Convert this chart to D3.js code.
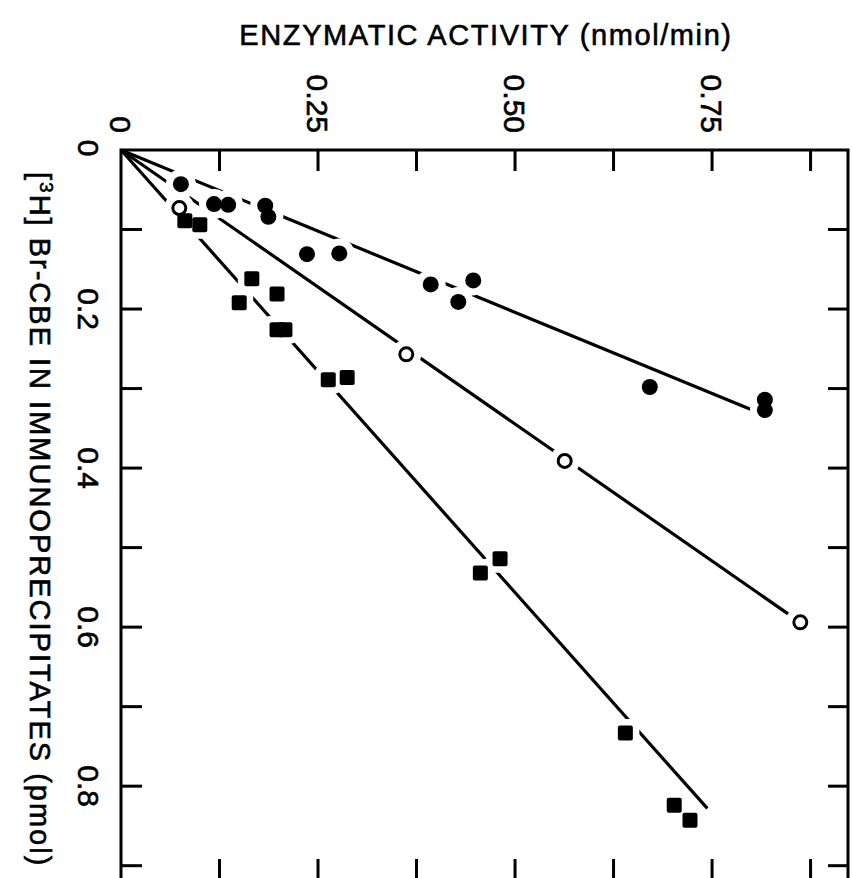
<!DOCTYPE html>
<html>
<head>
<meta charset="utf-8">
<script src="https://cdn.jsdelivr.net/npm/d3@7"></script>
<style>
  html, body { margin: 0; padding: 0; background: #fff; }
  svg { display: block; }
  text { stroke: #000; stroke-width: 0.6px; }
</style>
</head>
<body>
<div id="chart"></div>
<script>
(function () {
  'use strict';

  // filled circles
  const CIRCLE_ACT  = [0.076, 0.118, 0.136, 0.183, 0.187, 0.236, 0.277, 0.393, 0.447, 0.428, 0.671, 0.817, 0.817];
  const CIRCLE_PMOL = [0.043, 0.068, 0.069, 0.070, 0.084, 0.131, 0.130, 0.169, 0.164, 0.191, 0.298, 0.314, 0.327];
  // open circles
  const OPEN_ACT  = [0.074, 0.362, 0.563, 0.862];
  const OPEN_PMOL = [0.073, 0.257, 0.391, 0.594];
  // filled squares
  const SQUARE_ACT  = [0.081, 0.100, 0.166, 0.150, 0.198, 0.198, 0.208, 0.263, 0.287, 0.456, 0.481, 0.640, 0.702, 0.722];
  const SQUARE_PMOL = [0.089, 0.094, 0.162, 0.192, 0.181, 0.226, 0.226, 0.289, 0.286, 0.532, 0.514, 0.733, 0.824, 0.843];

  // fitted lines through the origin: [activity, pmol] at the far end
  const FIT_ENDS = [[0.801, 0.327], [0.862, 0.594], [0.744, 0.828]];

  const ACT_TICKS  = [0.125, 0.25, 0.375, 0.5, 0.625, 0.75, 0.875];
  const ACT_LABELS = [[0, '0'], [0.25, '0.25'], [0.5, '0.50'], [0.75, '0.75']];
  const PMOL_TICKS  = [0.1, 0.2, 0.3, 0.4, 0.5, 0.6, 0.7, 0.8, 0.9];
  const PMOL_LABELS = [[0, '0'], [0.2, '0.2'], [0.4, '0.4'], [0.6, '0.6'], [0.8, '0.8']];

  const W = 852, H = 878;
  const FONT = 'Liberation Sans, Arial, Helvetica, sans-serif';

  const x = d3.scaleLinear().domain([0, 0.9225]).range([121, 848]);
  const y = d3.scaleLinear().domain([0, 0.918]).range([150, 880]);

  const svg = d3.select('#chart').append('svg').attr('width', W).attr('height', H);

  // frame
  svg.append('rect')
    .attr('x', x(0)).attr('y', y(0))
    .attr('width', x.range()[1] - x(0)).attr('height', y.range()[1] - y(0))
    .attr('fill', 'none').attr('stroke', '#000').attr('stroke-width', 3);

  // ticks, all pointing inwards
  const tk = svg.append('g').attr('stroke', '#000').attr('stroke-width', 3);
  ACT_TICKS.forEach(v => {
    tk.append('line').attr('x1', x(v)).attr('x2', x(v)).attr('y1', y(0)).attr('y2', y(0) + 21);
    tk.append('line').attr('x1', x(v)).attr('x2', x(v)).attr('y1', y.range()[1]).attr('y2', y.range()[1] - 21);
  });
  PMOL_TICKS.forEach(v => {
    tk.append('line').attr('y1', y(v)).attr('y2', y(v)).attr('x1', x(0)).attr('x2', x(0) + 21);
    tk.append('line').attr('y1', y(v)).attr('y2', y(v)).attr('x1', x.range()[1]).attr('x2', x.range()[1] - 20);
  });

  // tick labels (the whole figure is turned 90 deg clockwise)
  ACT_LABELS.forEach(([v, s]) => {
    svg.append('text').attr('transform', `translate(${x(v) - 11},133) rotate(90)`)
      .attr('text-anchor', 'end').style('font-family', FONT).style('font-size', '30px').text(s);
  });
  PMOL_LABELS.forEach(([v, s]) => {
    svg.append('text').attr('transform', `translate(78,${y(v) - (v === 0 ? 2 : 0)}) rotate(90)`)
      .attr('text-anchor', 'middle').style('font-family', FONT).style('font-size', '30px').text(s);
  });

  // axis titles
  svg.append('text').attr('x', 486).attr('y', 45).attr('text-anchor', 'middle')
    .style('font-family', FONT).style('font-size', '29px').style('letter-spacing', '1.6px')
    .text('ENZYMATIC  ACTIVITY (nmol/min)');

  const yt = svg.append('text').attr('transform', 'translate(30,172) rotate(90)')
    .style('font-family', FONT).style('font-size', '29px').style('letter-spacing', '2px');
  yt.append('tspan').text('[');
  yt.append('tspan').attr('dy', -10).style('font-size', '19px').text('3');
  yt.append('tspan').attr('dy', 10).text('H');
  yt.append('tspan').text(']');
  yt.append('tspan').text(' Br-CBE  IN  IMMUNOPRECIPITATES (pmol)');

  // fitted lines
  svg.append('g').selectAll('line').data(FIT_ENDS).join('line')
    .attr('x1', x(0)).attr('y1', y(0))
    .attr('x2', d => x(d[0])).attr('y2', d => y(d[1]))
    .attr('stroke', '#000').attr('stroke-width', 3.2);

  const circles = CIRCLE_ACT.map((a, i) => ({ a, p: CIRCLE_PMOL[i] }));
  const opens   = OPEN_ACT.map((a, i) => ({ a, p: OPEN_PMOL[i] }));
  const squares = SQUARE_ACT.map((a, i) => ({ a, p: SQUARE_PMOL[i] }));

  // white halos break the lines around the symbols
  const halo = svg.append('g').attr('fill', '#fff');
  halo.selectAll('.hc').data(circles.concat(opens)).join('circle')
    .attr('cx', d => x(d.a)).attr('cy', d => y(d.p)).attr('r', 15);
  halo.selectAll('.hs').data(squares).join('rect')
    .attr('x', d => x(d.a) - 14).attr('y', d => y(d.p) - 14)
    .attr('width', 28).attr('height', 28).attr('rx', 8);

  const marks = svg.append('g');
  marks.selectAll('.fc').data(circles).join('circle')
    .attr('cx', d => x(d.a)).attr('cy', d => y(d.p)).attr('r', 8).attr('fill', '#000');
  marks.selectAll('.oc').data(opens).join('circle')
    .attr('cx', d => x(d.a)).attr('cy', d => y(d.p)).attr('r', 6.5)
    .attr('fill', '#fff').attr('stroke', '#000').attr('stroke-width', 3);
  marks.selectAll('.sq').data(squares).join('rect')
    .attr('x', d => x(d.a) - 7.5).attr('y', d => y(d.p) - 7.5)
    .attr('width', 15).attr('height', 15).attr('rx', 2).attr('fill', '#000');
})();
</script>
</body>
</html>
